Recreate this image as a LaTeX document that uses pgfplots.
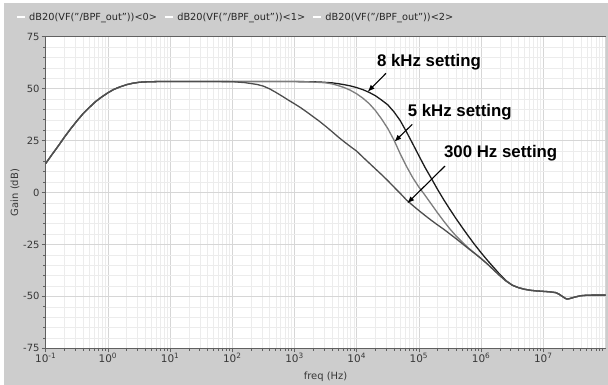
\documentclass[border=0pt]{standalone}
\usepackage{fontspec}
\setmainfont{DejaVu Sans}
\newfontfamily\annotfont{Liberation Sans}
\usepackage{pgfplots}
\pgfplotsset{compat=1.18}
\usepackage{pgfplotstable}
\usetikzlibrary{arrows.meta}
\definecolor{bggray}{RGB}{205,205,205}
\definecolor{majgrid}{RGB}{214,214,214}
\definecolor{mingrid}{RGB}{236,236,236}
\definecolor{axgray}{RGB}{96,96,96}
\definecolor{txtgray}{RGB}{55,55,55}
\definecolor{cEight}{RGB}{28,28,28}
\definecolor{cFive}{RGB}{125,125,125}
\definecolor{cThree}{RGB}{78,78,78}

% frequency (Hz)  gain (dB)
\pgfplotstableread{
f gain
0.1 14.0
0.1259 18.2
0.1585 22.3
0.1995 26.6
0.2512 30.6
0.3162 34.4
0.3981 37.9
0.5012 40.9
0.6310 43.7
0.7943 46.0
1 48.0
1.259 49.7
1.585 50.9
1.995 51.9
2.512 52.6
3.162 53.05
3.981 53.25
6.310 53.4
10 53.45
31.62 53.45
100 53.45
1000 53.4
1585 53.35
2512 53.2
3162 53.0
3981 52.8
5012 52.4
6310 51.9
7943 51.3
1e4 50.5
1.259e4 49.5
1.585e4 48.2
1.995e4 46.6
2.512e4 44.5
3.162e4 42.2
3.981e4 38.8
5.012e4 34.6
6.310e4 29.2
7.943e4 23.5
1e5 17.7
1.259e5 12.0
1.585e5 6.8
1.995e5 1.5
2.512e5 -3.5
3.162e5 -8.2
3.981e5 -12.7
5.012e5 -17.0
6.310e5 -21.2
7.943e5 -25.2
1e6 -29.0
1.259e6 -32.6
1.585e6 -36.0
1.995e6 -39.4
2.512e6 -42.4
3.162e6 -44.6
3.981e6 -45.8
5.012e6 -46.6
6.310e6 -47.1
7.943e6 -47.4
1e7 -47.6
1.259e7 -47.8
1.585e7 -48.2
1.778e7 -48.9
1.995e7 -49.9
2.239e7 -50.9
2.399e7 -51.3
2.630e7 -51.1
3.162e7 -50.4
3.981e7 -49.7
5.012e7 -49.45
6.310e7 -49.4
1e8 -49.4
}\eightk

\pgfplotstableread{
f gain
0.1 14.0
0.1259 18.2
0.1585 22.3
0.1995 26.6
0.2512 30.6
0.3162 34.4
0.3981 37.9
0.5012 40.9
0.6310 43.7
0.7943 46.0
1 48.0
1.259 49.7
1.585 50.9
1.995 51.9
2.512 52.6
3.162 53.05
3.981 53.25
6.310 53.4
10 53.45
31.62 53.45
100 53.45
1000 53.4
1585 53.3
2512 53.0
3162 52.8
3981 52.3
5012 51.5
6310 50.5
7943 49.2
1e4 47.5
1.259e4 45.4
1.585e4 42.8
1.995e4 39.5
2.512e4 35.4
3.162e4 30.8
3.981e4 25.2
5.012e4 18.6
6.310e4 12.6
7.943e4 7.2
1e5 2.6
1.259e5 -1.4
1.585e5 -5.6
1.995e5 -9.8
2.512e5 -13.8
3.162e5 -17.6
3.981e5 -21.0
5.012e5 -24.0
6.310e5 -26.8
7.943e5 -29.3
1e6 -31.8
1.259e6 -34.4
1.585e6 -37.2
1.995e6 -40.0
2.512e6 -42.6
3.162e6 -44.6
3.981e6 -45.8
5.012e6 -46.6
6.310e6 -47.1
7.943e6 -47.4
1e7 -47.6
1.259e7 -47.8
1.585e7 -48.2
1.778e7 -48.9
1.995e7 -49.9
2.239e7 -50.9
2.399e7 -51.3
2.630e7 -51.1
3.162e7 -50.4
3.981e7 -49.7
5.012e7 -49.45
6.310e7 -49.4
1e8 -49.4
}\fivek

\pgfplotstableread{
f gain
0.1 14.0
0.1259 18.2
0.1585 22.3
0.1995 26.6
0.2512 30.6
0.3162 34.4
0.3981 37.9
0.5012 40.9
0.6310 43.7
0.7943 46.0
1 48.0
1.259 49.7
1.585 50.9
1.995 51.9
2.512 52.6
3.162 53.05
3.981 53.25
6.310 53.4
10 53.45
31.62 53.45
100 53.35
158.5 52.9
251.2 52.0
316.2 51.2
398.1 49.9
501.2 48.2
631.0 46.4
794.3 44.5
1000 42.7
1259 40.8
1585 38.7
1995 36.5
2512 34.3
3162 31.9
3981 29.4
5012 26.8
6310 24.4
7943 22.1
1e4 19.9
1.259e4 17.0
1.585e4 14.2
1.995e4 11.4
2.512e4 8.6
3.162e4 5.7
3.981e4 2.6
5.012e4 -0.4
6.310e4 -3.6
7.943e4 -6.2
1e5 -8.7
1.259e5 -11.1
1.585e5 -13.4
1.995e5 -15.6
2.512e5 -17.7
3.162e5 -20.0
3.981e5 -22.3
5.012e5 -24.7
6.310e5 -27.1
7.943e5 -29.4
1e6 -31.8
1.259e6 -34.4
1.585e6 -37.2
1.995e6 -40.0
2.512e6 -42.6
3.162e6 -44.6
3.981e6 -45.8
5.012e6 -46.6
6.310e6 -47.1
7.943e6 -47.4
1e7 -47.6
1.259e7 -47.8
1.585e7 -48.2
1.778e7 -48.9
1.995e7 -49.9
2.239e7 -50.9
2.399e7 -51.3
2.630e7 -51.1
3.162e7 -50.4
3.981e7 -49.7
5.012e7 -49.45
6.310e7 -49.4
1e8 -49.4
}\threeh

\begin{document}
\begin{tikzpicture}
\path[use as bounding box] (-45.7bp,-36.7bp) rectangle (562.3bp,348.3bp);
\fill[white] (-45.7bp,-36.7bp) rectangle (562.3bp,348.3bp);
\fill[bggray] (-41.7bp,-36.7bp) rectangle (562.3bp,345.3bp);
\begin{axis}[
  at={(0bp,0bp)}, anchor=south west,
  scale only axis, width=559.8bp, height=311.6bp,
  xmode=log, log basis x=10,
  xmin=0.1, xmax=1e8, ymin=-75, ymax=75,
  axis background/.style={fill=white},
  xtick={0.1,1,10,100,1000,1e4,1e5,1e6,1e7},
  xticklabels={10\textsuperscript{-1},10\textsuperscript{0},10\textsuperscript{1},10\textsuperscript{2},10\textsuperscript{3},10\textsuperscript{4},10\textsuperscript{5},10\textsuperscript{6},10\textsuperscript{7}},
  minor xtick={0.2,0.3,0.4,0.5,0.6,0.7,0.8,0.9,2,3,4,5,6,7,8,9,20,30,40,50,60,70,80,90,200,300,400,500,600,700,800,900,2000,3000,4000,5000,6000,7000,8000,9000,2e4,3e4,4e4,5e4,6e4,7e4,8e4,9e4,2e5,3e5,4e5,5e5,6e5,7e5,8e5,9e5,2e6,3e6,4e6,5e6,6e6,7e6,8e6,9e6,2e7,3e7,4e7,5e7,6e7,7e7,8e7,9e7},
  extra x ticks={1e8}, extra x tick labels={},
  extra x tick style={grid=major, major tick length=0pt},
  ytick={-75,-50,-25,0,25,50,75},
  yticklabels={-75,-50,-25,0,25,50,75},
  minor y tick num=4,
  grid=both,
  major grid style={draw=majgrid, line width=0.6bp},
  minor grid style={draw=mingrid, line width=0.5bp},
  tick align=outside, tick pos=left,
  major tick length=4bp, minor tick length=2.5bp,
  every tick/.style={draw=axgray, line width=0.6bp},
  axis line style={draw=axgray, line width=0.8bp},
  xticklabel style={font=\fontsize{10.5}{12}\selectfont, text=txtgray, inner sep=0.5bp},
  yticklabel style={font=\fontsize{10}{12}\selectfont, text=txtgray, inner sep=2bp},
  xlabel={freq (Hz)}, ylabel={Gain (dB)},
  xlabel style={font=\fontsize{10}{12}\selectfont, text=txtgray, at={(axis description cs:0.5,-0.092)}, anchor=center},
  ylabel style={font=\fontsize{10}{12}\selectfont, text=txtgray, at={(axis description cs:-0.0548,0.5)}, anchor=center, rotate=0},
  legend columns=3,
  legend style={draw=none, fill=none, at={(axis description cs:-0.053,1.062)}, anchor=west,
    inner sep=0pt, outer sep=0pt, font=\fontsize{9.8}{11}\selectfont, text=black!85,
    nodes={inner sep=1bp},
    /tikz/every odd column/.append style={column sep=2bp},
    /tikz/every even column/.append style={column sep=6bp}},
  legend image code/.code={\draw[white, line width=2.2bp] (0bp,0bp) -- (8bp,0bp);},
]
\addplot[cEight, line width=1.3bp, no markers] table[x=f, y=gain] {\eightk};
\addlegendentry{dB20(VF("/BPF\_out"))<0>}
\addplot[cFive, line width=1.3bp, no markers] table[x=f, y=gain] {\fivek};
\addlegendentry{dB20(VF("/BPF\_out"))<1>}
\addplot[cThree, line width=1.3bp, no markers] table[x=f, y=gain] {\threeh};
\addlegendentry{dB20(VF("/BPF\_out"))<2>}

\node[font=\annotfont\bfseries\fontsize{16.9}{18}\selectfont, inner sep=0pt] at (axis cs:1.452e5,62.6) {8 kHz setting};
\node[font=\annotfont\bfseries\fontsize{16.9}{18}\selectfont, inner sep=0pt] at (axis cs:4.53e5,38.5) {5 kHz setting};
\node[font=\annotfont\bfseries\fontsize{16.9}{18}\selectfont, inner sep=0pt] at (axis cs:2.065e6,19.0) {300 Hz setting};
\draw[-{Latex[length=7bp,width=5.5bp]}, line width=1.1bp, black] (axis cs:2.958e4,57.4) -- (axis cs:1.503e4,48.5);
\draw[-{Latex[length=7bp,width=5.5bp]}, line width=1.1bp, black] (axis cs:7.83e4,32.8) -- (axis cs:4.03e4,24.45);
\draw[-{Latex[length=7bp,width=5.5bp]}, line width=1.1bp, black] (axis cs:2.63e5,12.75) -- (axis cs:6.50e4,-5.2);
\end{axis}
\end{tikzpicture}
\end{document}
